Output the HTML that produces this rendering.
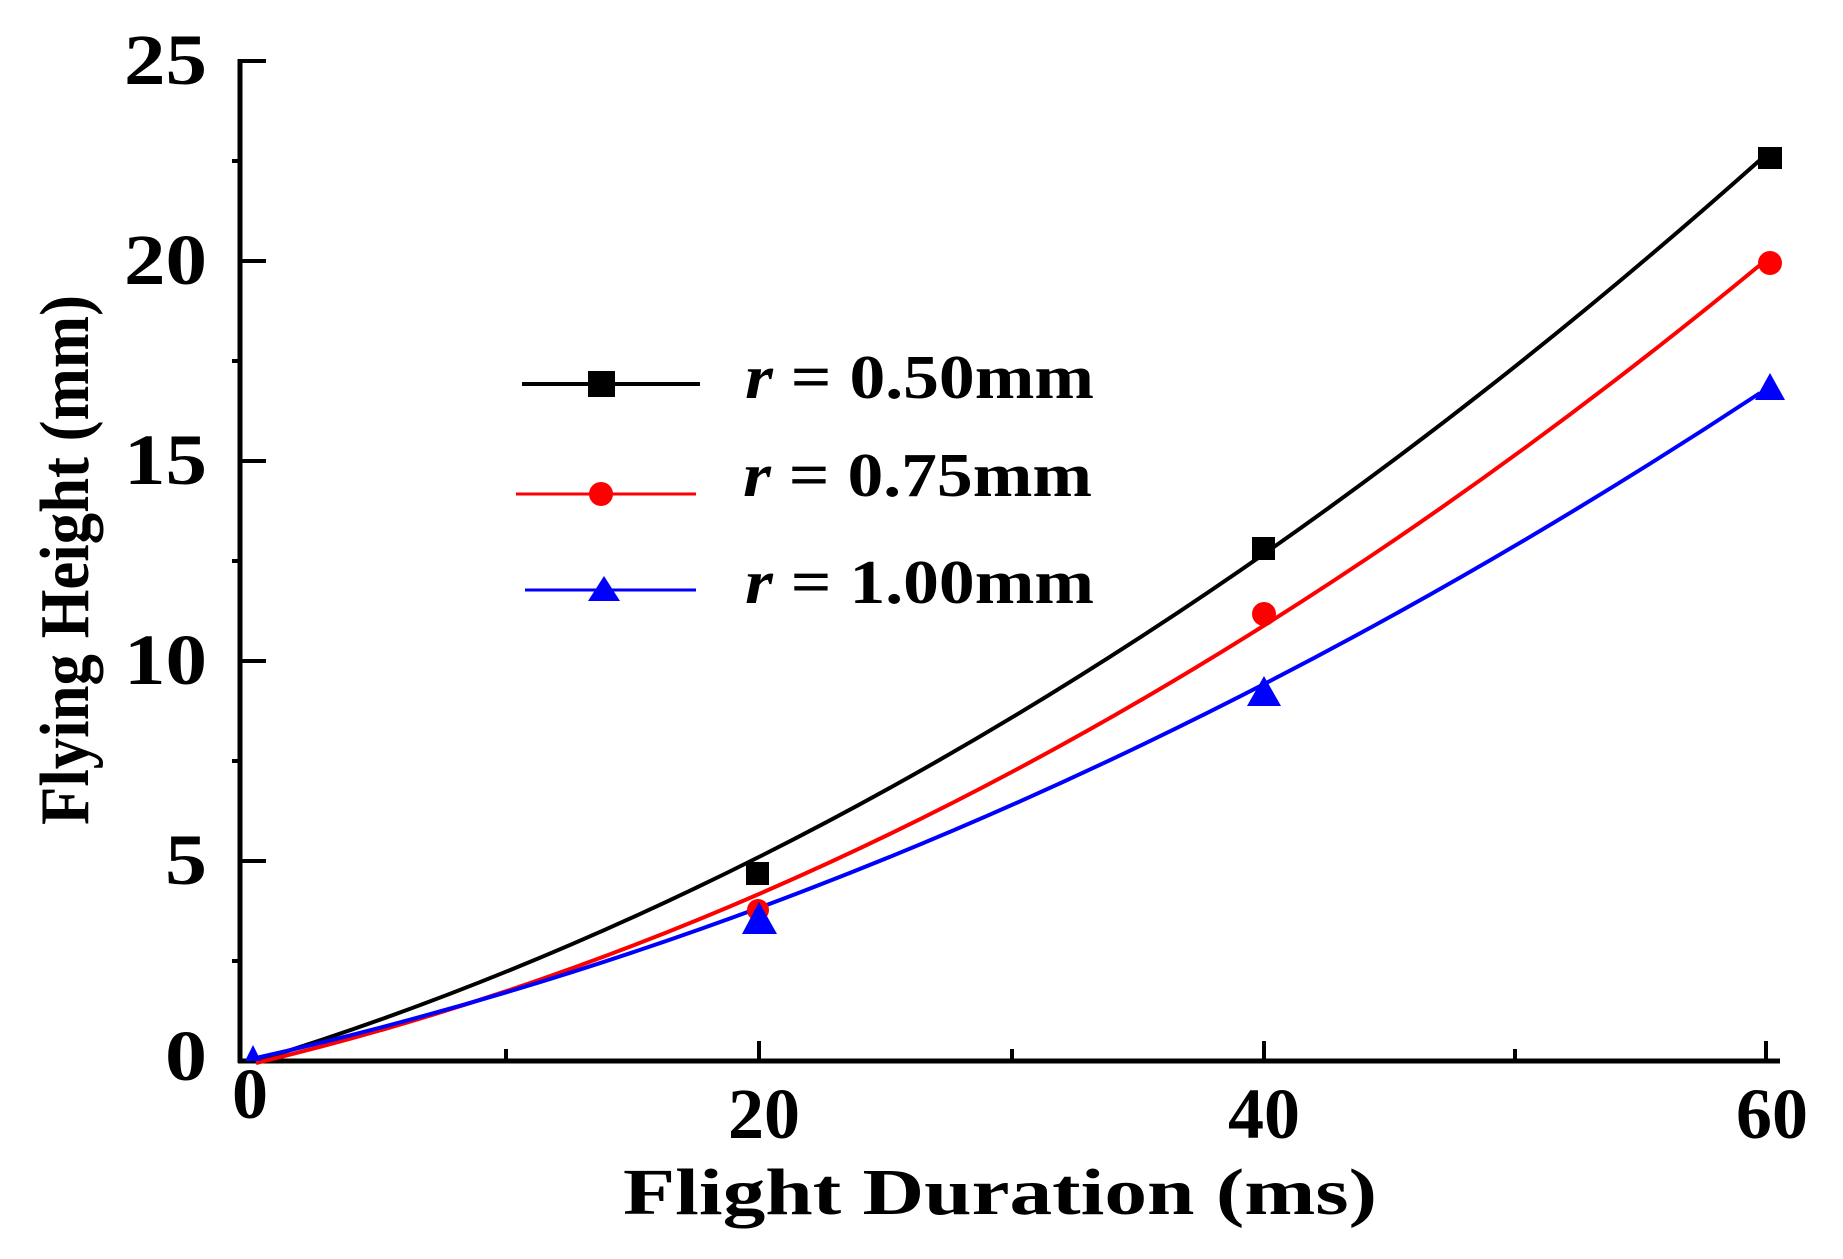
<!DOCTYPE html>
<html><head><meta charset="utf-8"><style>
html,body{margin:0;padding:0;background:#fff;}
svg{display:block;}
text{font-family:"Liberation Serif",serif;font-weight:bold;fill:#000;}
</style></head><body>
<svg width="1843" height="1259" viewBox="0 0 1843 1259" xmlns="http://www.w3.org/2000/svg">
<line x1="240" y1="59" x2="240" y2="1063" stroke="#000" stroke-width="5"/>
<line x1="238" y1="1061" x2="1780" y2="1061" stroke="#000" stroke-width="5"/>
<g stroke="#000" stroke-width="4">
<line x1="240" y1="61" x2="266" y2="61"/>
<line x1="240" y1="261" x2="266" y2="261"/>
<line x1="240" y1="461" x2="266" y2="461"/>
<line x1="240" y1="661" x2="266" y2="661"/>
<line x1="240" y1="861" x2="266" y2="861"/>
<line x1="232" y1="161" x2="240" y2="161"/>
<line x1="232" y1="361" x2="240" y2="361"/>
<line x1="232" y1="561" x2="240" y2="561"/>
<line x1="232" y1="761" x2="240" y2="761"/>
<line x1="232" y1="961" x2="240" y2="961"/>
<line x1="759" y1="1061" x2="759" y2="1041"/>
<line x1="1264" y1="1061" x2="1264" y2="1041"/>
<line x1="1766" y1="1061" x2="1766" y2="1041"/>
<line x1="506" y1="1061" x2="506" y2="1049"/>
<line x1="1012" y1="1061" x2="1012" y2="1049"/>
<line x1="1515" y1="1061" x2="1515" y2="1049"/>
</g>
<g font-size="72" text-anchor="end">
<text x="207" y="84" textLength="83" lengthAdjust="spacingAndGlyphs">25</text>
<text x="207" y="284" textLength="83" lengthAdjust="spacingAndGlyphs">20</text>
<text x="207" y="484" textLength="83" lengthAdjust="spacingAndGlyphs">15</text>
<text x="207" y="684" textLength="83" lengthAdjust="spacingAndGlyphs">10</text>
<text x="207" y="884" textLength="42" lengthAdjust="spacingAndGlyphs">5</text>
<text x="207" y="1080" textLength="42" lengthAdjust="spacingAndGlyphs">0</text>
</g>
<g font-size="72" text-anchor="middle">
<text x="250" y="1118">0</text>
<text x="764" y="1138">20</text>
<text x="1264" y="1138">40</text>
<text x="1772" y="1138">60</text>
</g>
<text x="623" y="1214" font-size="66" textLength="754" lengthAdjust="spacingAndGlyphs">Flight Duration  (ms)</text>
<text transform="translate(88,825) rotate(-90)" font-size="70" textLength="530" lengthAdjust="spacingAndGlyphs">Flying Height  (mm)</text>
<path d="M256,1061 Q1010,828 1760,160" fill="none" stroke="#000" stroke-width="4"/>
<path d="M256,1063 Q1010,883 1760,265" fill="none" stroke="#f00" stroke-width="4"/>
<path d="M256,1058 Q1010,887 1760,393" fill="none" stroke="#00f" stroke-width="4"/>
<g fill="#000">
<rect x="746" y="862" width="23" height="23"/>
<rect x="1252" y="537" width="23" height="23"/>
<rect x="1758" y="147" width="24" height="22"/>
</g>
<g fill="#f00">
<circle cx="758" cy="910" r="11"/>
<circle cx="1264" cy="614" r="12"/>
<circle cx="1770" cy="263" r="12"/>
</g>
<g fill="#00f">
<polygon points="759,902 742,934 777,934"/>
<polygon points="1264,676 1247,706 1281,706"/>
<polygon points="1770,373 1755,400 1785,400"/>
<polygon points="253,1045 245,1061 261,1061"/>
</g>
<line x1="522" y1="384" x2="700" y2="384" stroke="#000" stroke-width="4"/>
<rect x="588" y="371" width="27" height="26" fill="#000"/>
<line x1="516" y1="494" x2="696" y2="494" stroke="#f00" stroke-width="3"/>
<circle cx="601" cy="494" r="12" fill="#f00"/>
<line x1="525" y1="590" x2="696" y2="590" stroke="#00f" stroke-width="3"/>
<polygon points="604,576 588,601 620,601" fill="#00f"/>
<g font-size="62">
<text x="745" y="398" textLength="349" lengthAdjust="spacingAndGlyphs"><tspan font-style="italic">r</tspan> = 0.50mm</text>
<text x="743" y="496" textLength="349" lengthAdjust="spacingAndGlyphs"><tspan font-style="italic">r</tspan> = 0.75mm</text>
<text x="745" y="603" textLength="349" lengthAdjust="spacingAndGlyphs"><tspan font-style="italic">r</tspan> = 1.00mm</text>
</g>
</svg>
</body></html>
